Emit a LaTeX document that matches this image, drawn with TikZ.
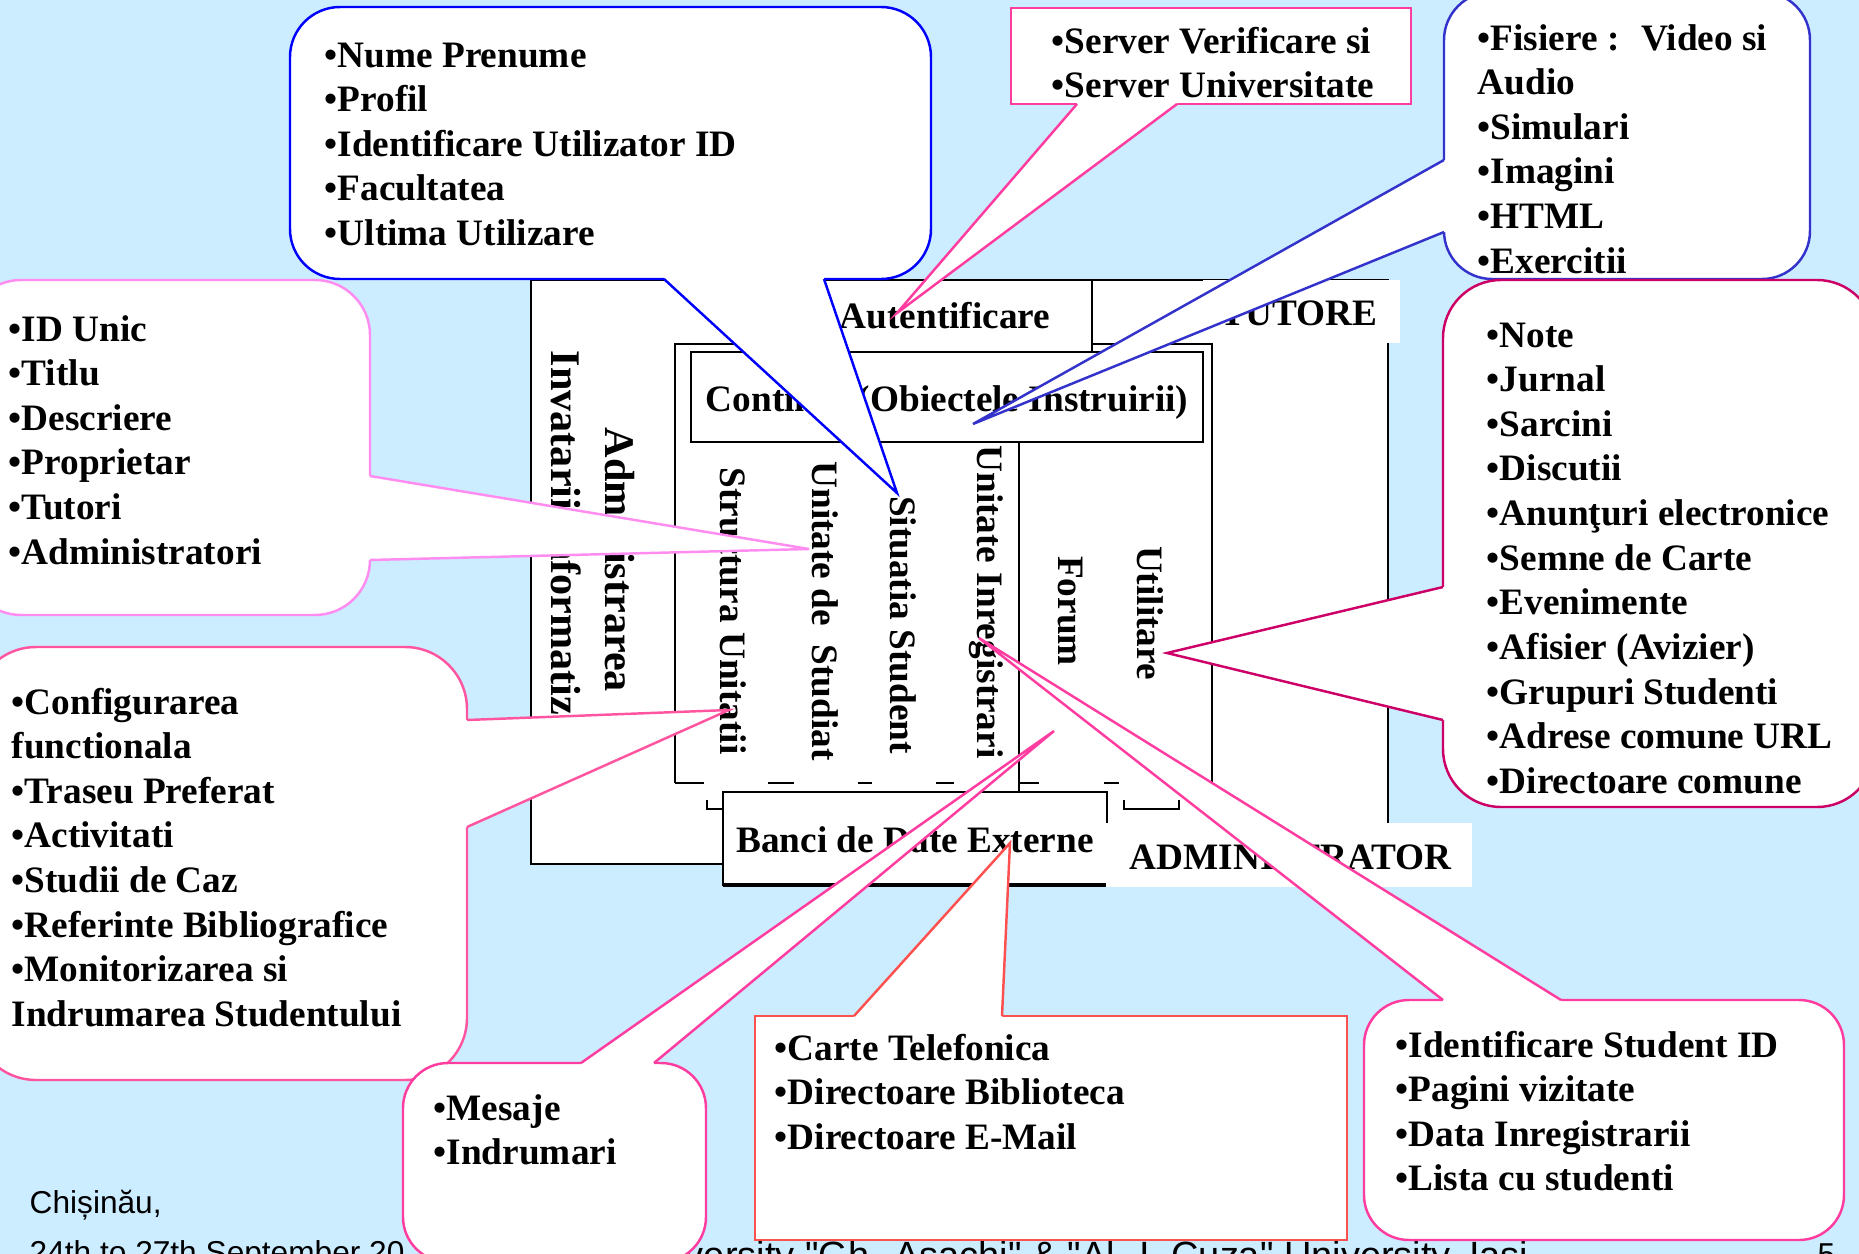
\documentclass[tikz,border=0pt]{standalone}
\usepackage{fontspec}
\setmainfont{Liberation Serif}
\newfontfamily\sansf{Liberation Sans}
\definecolor{bgblue}{RGB}{204,236,255}
\definecolor{cblue}{RGB}{0,0,255}
\definecolor{cpink}{RGB}{255,60,160}
\definecolor{cviolet}{RGB}{51,51,204}
\definecolor{clpink}{RGB}{255,140,240}
\definecolor{cmpink}{RGB}{255,85,160}
\definecolor{cred}{RGB}{255,80,80}
\definecolor{ccrimson}{RGB}{204,0,102}
\newcommand\cfont{\fontsize{10.6}{12.7}\selectfont\bfseries}
\newcommand\bigfont{\fontsize{12}{14}\selectfont\bfseries}
\newcommand\lines[1]{\begin{tabular}[t]{@{}l@{}}#1\end{tabular}}
\begin{document}
\begin{tikzpicture}[x=0.01cm,y=-0.01cm,
  box/.style={draw=black,fill=white,line width=0.6pt},
  bl/.style={draw=black,line width=0.6pt},
  ct/.style={font=\cfont,inner sep=0pt,anchor=base west},
  vt/.style={font=\cfont,inner sep=0pt,rotate=-90},
  co/.style={fill=white,line width=0.7pt},
  pl/.style={line width=0.7pt,line join=miter},
  foot/.style={font=\sansf\fontsize{9}{11}\selectfont,inner sep=0pt,anchor=base west}]
\useasboundingbox (0,0) rectangle (1859,1254);
\clip (0,0) rectangle (1859,1254);
\fill[bgblue] (0,0) rectangle (1859,1254);

% footer
\node[foot] (f1) at (29,1213) {Chișinău,};
\node[foot] (f2) at (29,1263) {24th to 27th September 20};
\node[foot,font=\sansf\fontsize{10.8}{13}\selectfont,anchor=base east] (f3) at (1529,1268) {University "Gh. Asachi" \& "Al. I. Cuza" University, Iasi};
\node[foot,anchor=base east] (f4) at (1836,1265) {5};

% central diagram
\draw[box] (531,280) rectangle (1388,864);
\fill[white] (675,344) rectangle (1212,783);
\draw[bl] (675,783) -- (675,344) -- (1212,344) -- (1212,783);
\draw[bl] (675,783) -- (704,783) (768,783) -- (794,783) (858,783) -- (872,783)
          (936,783) -- (954,783) (1020,783) -- (1039,783) (1104,783) -- (1119,783);
\draw[box] (795,280) rectangle (1092,352);
\draw[box] (691,352) rectangle (1203,442);
\draw[bl] (1019,442) -- (1019,792);
\draw[bl] (707,800) -- (707,809) -- (723,809);
\draw[bl] (1124,800) -- (1124,809) -- (1179,809) -- (1179,800);
\draw[box] (723,792) rectangle (1107,885);
\draw[line width=1.3pt] (723,885) -- (1107,885);
\fill[white] (1203,280) rectangle (1400,343);
\fill[white] (1106,823) rectangle (1472,887);

\node[ct] (aut) at (839,328) {Autentificare};
\node[ct,anchor=base] (cont) at (947,411) {Continut (Obiectele Instruirii)};
\node[ct,anchor=base] (banci) at (915,852) {Banci de Date Externe};
\node[ct,anchor=base east] (tut) at (1378,325) {TUTORE};
\node[ct] (admin) at (1129,869) {ADMINISTRATOR};

\node[vt,font=\bigfont] (v1) at (620,560) {Administrarea};
\node[vt,font=\bigfont] (v2) at (566,560) {Invatarii Informatizate};
\node[vt] (v3) at (733,611) {Structura Unitatii};
\node[vt] (v4) at (825,611) {Unitate de~ Studiat};
\node[vt] (v5) at (903,625) {Situatia Student};
\node[vt] (v6) at (986,602) {Unitate Inregistrari};
\node[vt] (v7) at (1070,611) {Forum};
\node[vt] (v8) at (1150,613) {Utilitare};

% callout 1: top blue
\coordinate (pA) at (897,493);
\draw[co,draw=cblue,rounded corners=0.5cm] (290,7) rectangle (931,279);
\fill[white] (664,274) -- (664,279) -- (pA) -- (824,279) -- (824,274) -- cycle;
\draw[pl,cblue] (664,279) -- (pA) -- (824,279);
\node[ct] (tA) at (324,67) {\lines{•Nume Prenume\\•Profil\\•Identificare Utilizator ID\\•Facultatea\\•Ultima Utilizare}};

% callout 2: server
\coordinate (pB) at (897,313);
\draw[co,draw=cpink] (1011,8) rectangle (1411,104);
\fill[white] (1077,100) -- (1077,104) -- (pB) -- (1177,104) -- (1177,100) -- cycle;
\draw[pl,cpink] (1077,104) -- (pB) -- (1177,104);
\node[ct] (tB) at (1051,53) {\lines{•Server Verificare si\\•Server Universitate}};

% callout 3: fisiere
\coordinate (pC) at (973,424);
\draw[co,draw=cviolet,rounded corners=0.48cm] (1444,-8) rectangle (1810,279);
\fill[white] (1448,160) -- (1444,160) -- (pC) -- (1444,232) -- (1448,232) -- cycle;
\draw[pl,cviolet] (1444,160) -- (pC) -- (1444,232);
\node[ct] (tC) at (1477,50) {\lines{•Fisiere :~ Video si\\Audio\\•Simulari\\•Imagini\\•HTML\\•Exercitii}};

% callout 9: note
\coordinate (pI) at (1167,653);
\draw[co,draw=ccrimson,rounded corners=0.58cm] (1443,280) rectangle (1875,807);
\fill[white] (1447,587) -- (1443,587) -- (pI) -- (1443,720) -- (1447,720) -- cycle;
\draw[pl,ccrimson] (1443,587) -- (pI) -- (1443,720);
\node[ct] (tI) at (1486,347) {\lines{•Note\\•Jurnal\\•Sarcini\\•Discutii\\•Anunţuri electronice\\•Semne de Carte\\•Evenimente\\•Afisier (Avizier)\\•Grupuri Studenti\\•Adrese comune URL\\•Directoare comune}};

% callout 4: id unic
\coordinate (pD) at (809,549);
\draw[co,draw=clpink,rounded corners=0.55cm] (-34,280) rectangle (370,615);
\fill[white] (366,476) -- (370,476) -- (pD) -- (370,560) -- (366,560) -- cycle;
\draw[pl,clpink] (370,476) -- (pD) -- (370,560);
\node[ct] (tD) at (8,341) {\lines{•ID Unic\\•Titlu\\•Descriere\\•Proprietar\\•Tutori\\•Administratori}};

% callout 5: configurarea
\coordinate (pE) at (729,710);
\draw[co,draw=cmpink,rounded corners=0.62cm] (-26,647) rectangle (467,1080);
\fill[white] (463,720) -- (467,720) -- (pE) -- (467,827) -- (463,827) -- cycle;
\draw[pl,cmpink] (467,720) -- (pE) -- (467,827);
\node[ct] (tE) at (11,714) {\lines{•Configurarea\\functionala\\•Traseu Preferat\\•Activitati\\•Studii de Caz\\•Referinte Bibliografice\\•Monitorizarea si\\Indrumarea Studentului}};

% callout 6: mesaje
\coordinate (pF) at (1054,731);
\draw[co,draw=cpink,rounded corners=0.45cm] (403,1063) rectangle (706,1262);
\fill[white] (581,1067) -- (581,1063) -- (pF) -- (654,1063) -- (654,1067) -- cycle;
\draw[pl,cpink] (581,1063) -- (pF) -- (654,1063);
\node[ct] (tF) at (433,1120) {\lines{•Mesaje\\•Indrumari}};

% callout 7: red
\coordinate (pG) at (1010,843);
\draw[co,draw=cred] (755,1016) rectangle (1347,1240);
\fill[white] (854,1020) -- (854,1016) -- (pG) -- (1002,1016) -- (1002,1020) -- cycle;
\draw[pl,cred] (854,1016) -- (pG) -- (1002,1016);
\node[ct] (tG) at (774,1060) {\lines{•Carte Telefonica\\•Directoare Biblioteca\\•Directoare E-Mail}};

% callout 8: identificare
\coordinate (pH) at (979,638);
\draw[co,draw=cpink,rounded corners=0.45cm] (1364,1000) rectangle (1844,1240);
\fill[white] (1443,1004) -- (1443,1000) -- (pH) -- (1561,1000) -- (1561,1004) -- cycle;
\draw[pl,cpink] (1443,1000) -- (pH) -- (1561,1000);
\node[ct] (tH) at (1395,1057) {\lines{•Identificare Student ID\\•Pagini vizitate\\•Data Inregistrarii\\•Lista cu studenti}};
\end{tikzpicture}
\end{document}
